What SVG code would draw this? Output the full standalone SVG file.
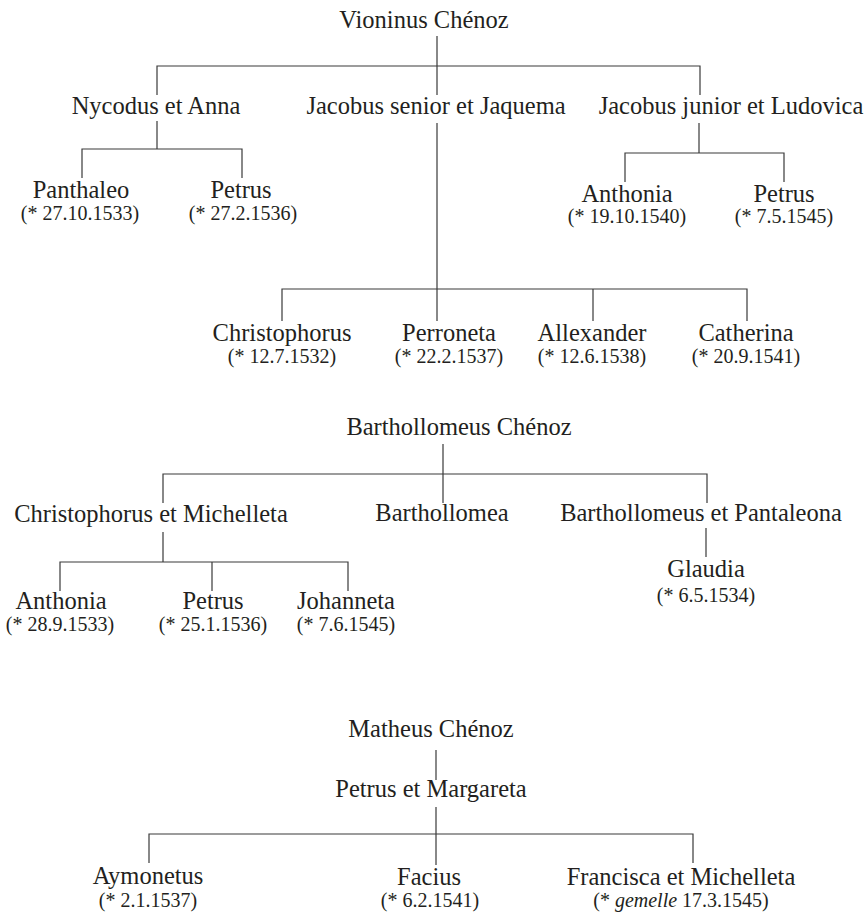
<svg xmlns="http://www.w3.org/2000/svg" width="867" height="916" viewBox="0 0 867 916">
<style>
text{font-family:"Liberation Serif","Times New Roman",serif;fill:#231f20;text-anchor:middle}
.n{font-size:24.5px}
.d{font-size:20px}
#connectors path{fill:none;stroke:#3a3a3a;stroke-width:1.2}
</style>
<rect width="867" height="916" fill="#fff"/>
<g id="connectors">
<path d="M437,36V95M157,95V66H700V95"/>
<path d="M157,121V149M82,178V149H242V178"/>
<path d="M699,123V153M625,182V153H784V182"/>
<path d="M437,123V321M282,321V289H747V321M593,289V321"/>
<path d="M443,444V503M163,503V474H707V503"/>
<path d="M163,532V562M60,591V562H348V591M212,562V591"/>
<path d="M706,528V557"/>
<path d="M436,750V780"/>
<path d="M436,807V865M149,863V834H693V863"/>
</g>
<g id="vioninus"><text class="n" x="424" y="28">Vioninus Chénoz</text></g>
<g id="nycodus"><text class="n" x="156" y="114">Nycodus et Anna</text></g>
<g id="jacobus-senior"><text class="n" x="436" y="114">Jacobus senior et Jaquema</text></g>
<g id="jacobus-junior"><text class="n" x="731" y="114">Jacobus junior et Ludovica</text></g>
<g id="panthaleo"><text class="n" x="81" y="198">Panthaleo</text><text class="d" x="80" y="220">(* 27.10.1533)</text></g>
<g id="petrus-1"><text class="n" x="241" y="198">Petrus</text><text class="d" x="243" y="220">(* 27.2.1536)</text></g>
<g id="anthonia-1"><text class="n" x="627" y="202">Anthonia</text><text class="d" x="627" y="223">(* 19.10.1540)</text></g>
<g id="petrus-2"><text class="n" x="784" y="202">Petrus</text><text class="d" x="784" y="223">(* 7.5.1545)</text></g>
<g id="christophorus-1"><text class="n" x="282" y="341">Christophorus</text><text class="d" x="282" y="363">(* 12.7.1532)</text></g>
<g id="perroneta"><text class="n" x="449" y="341">Perroneta</text><text class="d" x="449" y="363">(* 22.2.1537)</text></g>
<g id="allexander"><text class="n" x="592" y="341">Allexander</text><text class="d" x="592" y="363">(* 12.6.1538)</text></g>
<g id="catherina"><text class="n" x="746" y="341">Catherina</text><text class="d" x="746" y="363">(* 20.9.1541)</text></g>
<g id="barthollomeus"><text class="n" x="459" y="435">Barthollomeus Chénoz</text></g>
<g id="christophorus-2"><text class="n" x="151" y="522">Christophorus et Michelleta</text></g>
<g id="barthollomea"><text class="n" x="442" y="521">Barthollomea</text></g>
<g id="barthollomeus-2"><text class="n" x="701" y="521">Barthollomeus et Pantaleona</text></g>
<g id="anthonia-2"><text class="n" x="61" y="609">Anthonia</text><text class="d" x="60" y="631">(* 28.9.1533)</text></g>
<g id="petrus-3"><text class="n" x="213" y="609">Petrus</text><text class="d" x="213" y="631">(* 25.1.1536)</text></g>
<g id="johanneta"><text class="n" x="346" y="609">Johanneta</text><text class="d" x="346" y="631">(* 7.6.1545)</text></g>
<g id="glaudia"><text class="n" x="706" y="577">Glaudia</text><text class="d" x="706" y="602">(* 6.5.1534)</text></g>
<g id="matheus"><text class="n" x="431" y="737">Matheus Chénoz</text></g>
<g id="petrus-margareta"><text class="n" x="431" y="797">Petrus et Margareta</text></g>
<g id="aymonetus"><text class="n" x="148" y="884">Aymonetus</text><text class="d" x="148" y="907">(* 2.1.1537)</text></g>
<g id="facius"><text class="n" x="429" y="885">Facius</text><text class="d" x="430" y="907">(* 6.2.1541)</text></g>
<g id="francisca"><text class="n" x="681" y="885">Francisca et Michelleta</text><text class="d" x="681" y="907">(* <tspan font-style="italic">gemelle</tspan> 17.3.1545)</text></g>
</svg>
